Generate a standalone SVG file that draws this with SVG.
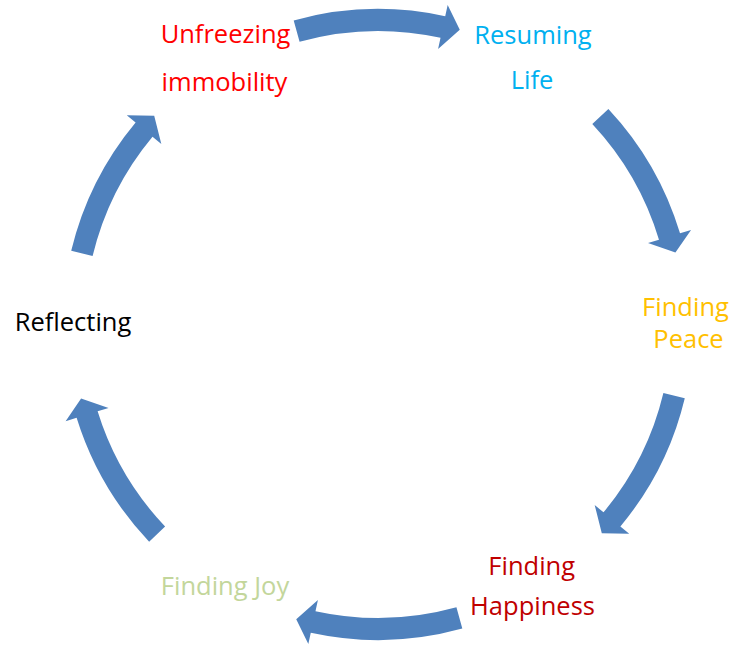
<svg xmlns="http://www.w3.org/2000/svg" xmlns:xlink="http://www.w3.org/1999/xlink" width="732" height="646" viewBox="0 0 732 646">
<style>
.arrow { fill: #4F81BD; stroke: none; }
.lbl { font-family: "Open Sans", "Liberation Sans", sans-serif; font-size: 25.5px; text-anchor: middle; }
</style>
<defs>
<path id="arcA" d="M 270.44 -162.49 A 315.5 315.5 0 0 1 315.0 -17.6 L 326.5 -18.25 L 306 0 L 281.6 -15.74 L 293.04 -16.38 A 293.5 293.5 0 0 0 251.58 -151.16 Z"/>
<path id="arcB" d="M 274.6 -155.36 A 315.5 315.5 0 0 1 315.0 -17.6 L 326.5 -18.25 L 306 0 L 281.6 -15.74 L 293.04 -16.38 A 293.5 293.5 0 0 0 255.45 -144.53 Z"/>
</defs>
<rect width="732" height="646" fill="#FFFFFF"/>
<g id="connectors">
<use xlink:href="#arcA" class="arrow" transform="translate(378,324.5) rotate(-74.5)"/>
<use xlink:href="#arcB" class="arrow" transform="translate(378,324.5) rotate(-13.6)"/>
<use xlink:href="#arcB" class="arrow" transform="translate(378,324.5) rotate(43)"/>
<use xlink:href="#arcA" class="arrow" transform="translate(378,324.5) rotate(105.5)"/>
<use xlink:href="#arcB" class="arrow" transform="translate(378,324.5) rotate(166)"/>
<use xlink:href="#arcB" class="arrow" transform="translate(378,324.5) rotate(-137)"/>
</g>
<g id="node-unfreezing">
<text class="lbl" fill="#FF0000" x="225.5" y="43.3">Unfreezing</text>
<text class="lbl" fill="#FF0000" x="224.5" y="91">immobility</text>
</g>
<g id="node-resuming">
<text class="lbl" fill="#00B0F0" x="533" y="44.3">Resuming</text>
<text class="lbl" fill="#00B0F0" x="532" y="89">Life</text>
</g>
<g id="node-peace">
<text class="lbl" fill="#FFC000" x="685.5" y="315.7">Finding</text>
<text class="lbl" fill="#FFC000" x="688.5" y="348.3">Peace</text>
</g>
<g id="node-happiness">
<text class="lbl" fill="#C00000" x="531.7" y="575">Finding</text>
<text class="lbl" fill="#C00000" x="532.5" y="615">Happiness</text>
</g>
<g id="node-joy">
<text class="lbl" fill="#C3D69B" x="225" y="595">Finding Joy</text>
</g>
<g id="node-reflecting">
<text class="lbl" fill="#000000" x="73" y="331">Reflecting</text>
</g>
</svg>
